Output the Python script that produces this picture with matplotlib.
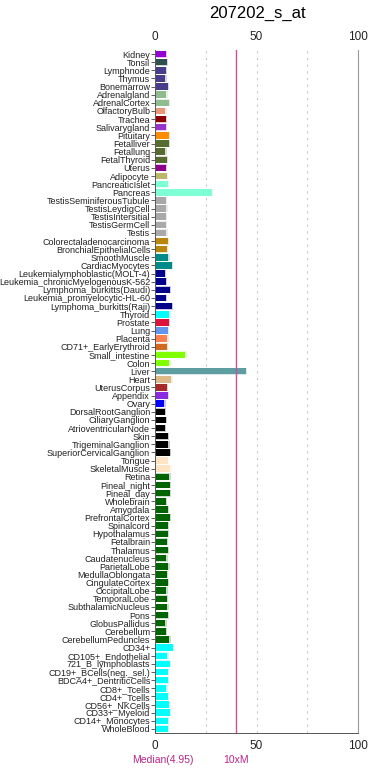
import numpy as np
import matplotlib
matplotlib.use('Agg')
import matplotlib.pyplot as plt

plt.rcParams['font.family'] = ['Liberation Sans', 'DejaVu Sans']

title = '207202_s_at'
tissues = ['Kidney', 'Tonsil', 'Lymphnode', 'Thymus', 'Bonemarrow', 'Adrenalgland', 'AdrenalCortex',
           'OlfactoryBulb', 'Trachea', 'Salivarygland', 'Pituitary', 'Fetalliver', 'Fetallung',
           'FetalThyroid', 'Uterus', 'Adipocyte', 'PancreaticIslet', 'Pancreas',
           'TestisSeminiferousTubule', 'TestisLeydigCell', 'TestisIntersitial', 'TestisGermCell',
           'Testis', 'Colorectaladenocarcinoma', 'BronchialEpithelialCells', 'SmoothMuscle',
           'CardiacMyocytes', 'Leukemialymphoblastic(MOLT-4)', 'Leukemia_chronicMyelogenousK-562',
           'Lymphoma_burkitts(Daudi)', 'Leukemia_promyelocytic-HL-60', 'Lymphoma_burkitts(Raji)',
           'Thyroid', 'Prostate', 'Lung', 'Placenta', 'CD71+_EarlyErythroid', 'Small_intestine',
           'Colon', 'Liver', 'Heart', 'UterusCorpus', 'Appendix', 'Ovary', 'DorsalRootGanglion',
           'CiliaryGanglion', 'AtrioventricularNode', 'Skin', 'TrigeminalGanglion',
           'SuperiorCervicalGanglion', 'Tongue', 'SkeletalMuscle', 'Retina', 'Pineal_night',
           'Pineal_day', 'Wholebrain', 'Amygdala', 'PrefrontalCortex', 'Spinalcord', 'Hypothalamus',
           'Fetalbrain', 'Thalamus', 'Caudatenucleus', 'ParietalLobe', 'MedullaOblongata',
           'CingulateCortex', 'OccipitalLobe', 'TemporalLobe', 'SubthalamicNucleus', 'Pons',
           'GlobusPallidus', 'Cerebellum', 'CerebellumPeduncles', 'CD34+', 'CD105+_Endothelial',
           '721_B_lymphoblasts', 'CD19+_BCells(neg._sel.)', 'BDCA4+_DentriticCells', 'CD8+_Tcells',
           'CD4+_Tcells', 'CD56+_NKCells', 'CD33+_Myeloid', 'CD14+_Monocytes', 'WholeBlood']

values = [4.8, 5.2, 4.8, 4.5, 5.6, 5.0, 6.1,
          4.5, 4.8, 4.6, 6.1, 6.3, 4.5,
          5.2, 4.6, 5.2, 5.6, 27.3,
          4.8, 5.0, 4.6, 4.6,
          4.9, 5.6, 5.3, 6.0,
          7.7, 4.1, 4.8,
          6.7, 4.6, 7.6,
          6.4, 6.1, 5.6, 5.4, 5.1, 14.4,
          6.4, 44.0, 7.4, 5.1, 5.6, 3.9, 4.3,
          4.8, 4.3, 5.6, 5.9,
          6.6, 5.6, 6.9, 6.4, 6.6,
          6.6, 4.6, 5.6, 6.6, 5.7, 5.7,
          5.2, 5.6, 4.9, 5.9, 5.1,
          5.6, 4.9, 5.1, 5.4, 5.6,
          4.4, 4.6, 6.4, 8.1, 5.4,
          6.6, 5.6, 5.6, 4.9,
          5.6, 6.1, 6.6, 5.6, 5.7]

colors = ['#9400D3', '#2F4F4F', '#483D8B', '#483D8B', '#483D8B', '#8FBC8F', '#8FBC8F',
          '#E9967A', '#8B0000', '#9932CC', '#FF8C00', '#556B2F', '#556B2F',
          '#556B2F', '#8B008B', '#BDB76B', '#7FFFD4', '#7FFFD4',
          '#A9A9A9', '#A9A9A9', '#A9A9A9', '#A9A9A9',
          '#A9A9A9', '#B8860B', '#B8860B', '#008B8B',
          '#008B8B', '#00008B', '#00008B',
          '#00008B', '#00008B', '#00008B',
          '#00FFFF', '#DC143C', '#6495ED', '#FF7F50', '#D2691E', '#7FFF00',
          '#7FFF00', '#5F9EA0', '#DEB887', '#A52A2A', '#8A2BE2', '#0000FF', '#000000',
          '#000000', '#000000', '#000000', '#000000',
          '#000000', '#FFE4C4', '#FFE4C4'] + ['#006400'] * 21 + ['#00FFFF'] * 11

median = 4.95
line_x = 40

fig = plt.figure(figsize=(3.7, 7.72), dpi=100)
ax = fig.add_axes([155 / 370, 1 - 733 / 772, 203 / 370, 683 / 772])

y = np.arange(len(tissues))
ax.barh(y, np.array(values) + 0.7, height=0.85, color=colors, alpha=0.22, left=0.6)
ax.barh(y, values, height=0.8, color=colors, left=0.6)

for g in [25, 50, 75]:
    ax.axvline(g, color='#C8C8C8', lw=0.8, ls=(0, (2, 4)), zorder=0)
ax.axvline(line_x, color='#C8509F', lw=1.0, zorder=3)

ax.set_xlim(0, 100)
ax.set_ylim(len(tissues) - 0.5, -0.5)
ax.set_yticks(y)
ax.set_yticklabels(tissues, fontsize=6.5)
ax.set_xticks([0, 50, 100])
ax.tick_params(axis='x', labelsize=8.5, top=True, labeltop=True, length=0, pad=5, colors='#222222')
ax.tick_params(axis='y', length=3, width=0.6, pad=0.5, color='#444444')
for lab in ax.get_yticklabels():
    lab.set_color('#222222')

ax.spines['top'].set_visible(False)
ax.spines['left'].set_color('#555555')
ax.spines['left'].set_linewidth(0.7)
ax.spines['right'].set_color('#999999')
ax.spines['bottom'].set_color('#555555')
ax.spines['bottom'].set_linewidth(0.7)

fig.text(257 / 370, 1 - 13 / 772, title, ha='center', va='center', fontsize=12)
fig.text(163 / 370, 1 - 760 / 772, 'Median(%.2f)' % median, ha='center', va='center',
         fontsize=7.5, color='#B8268A')
fig.text(236 / 370, 1 - 760 / 772, '10xM', ha='center', va='center', fontsize=7.5, color='#B8268A')

fig.savefig('out.png', dpi=100)
